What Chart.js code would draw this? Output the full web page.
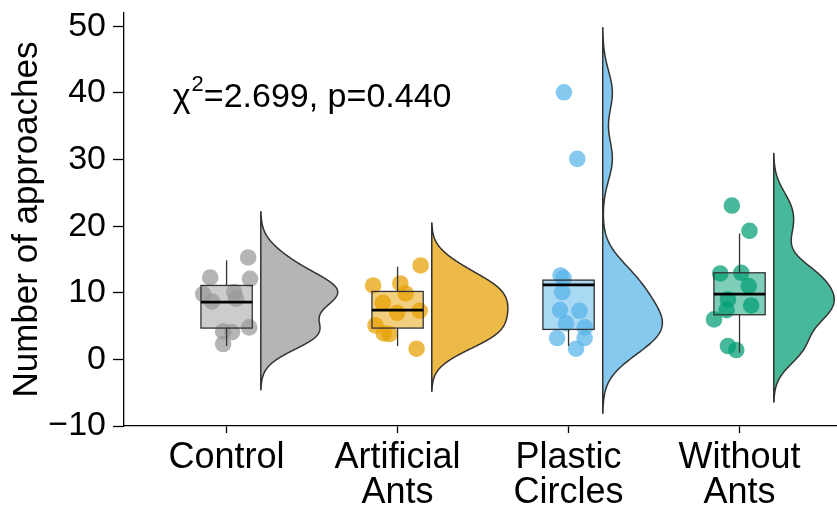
<!DOCTYPE html>
<html>
<head>
<meta charset="utf-8">
<script src="https://cdn.jsdelivr.net/npm/chart.js@4.4.1/dist/chart.umd.min.js"></script>
<style>
html,body{margin:0;padding:0;background:#fff;}
#wrap{width:837px;height:510px;position:relative;}
</style>
</head>
<body>
<div id="wrap"><canvas id="c" width="837" height="510"></canvas></div>
<script>
// ---------------- data ----------------
const categories = [['Control'], ['Artificial', 'Ants'], ['Plastic', 'Circles'], ['Without', 'Ants']];

const controlValues    = [15.3, 12.3, 12.1, 9.8, 8.7, 10.1, 9.1, 4.8, 4.2, 4.1, 2.3];
const artificialValues = [14.1, 11.1, 11.4, 9.9, 8.5, 7.0, 7.3, 5.1, 3.9, 3.8, 1.6];
const plasticValues    = [40.1, 30.1, 12.6, 12.2, 10.1, 7.4, 7.3, 5.4, 4.8, 3.2, 3.2, 1.6];
const withoutValues    = [23.1, 19.3, 12.9, 13.0, 11.0, 9.0, 8.1, 7.4, 6.0, 2.0, 1.4];

// horizontal jitter of each point (category units)
const controlJitter    = [0.126, -0.096, 0.137, -0.137, -0.085, 0.044, 0.056, 0.132, -0.020, 0.032, -0.020];
const artificialJitter = [0.135, -0.143, 0.016, 0.047, -0.086, -0.002, 0.129, -0.129, -0.080, -0.047, 0.111];
const plasticJitter    = [-0.027, 0.051, -0.047, -0.029, -0.037, -0.050, 0.064, -0.015, 0.095, -0.067, 0.094, 0.044];
const withoutJitter    = [-0.045, 0.058, -0.113, 0.010, 0.054, -0.068, 0.068, -0.076, -0.149, -0.068, -0.019];

// box-plot statistics per category
const boxLower  = [2.0, 2.0, 2.0, 1.0];
const boxQ1     = [4.7, 4.7, 4.5, 6.7];
const boxMedian = [8.6, 7.4, 11.2, 9.8];
const boxQ3     = [11.1, 10.2, 11.9, 13.0];
const boxUpper  = [14.9, 13.9, 12.0, 18.9];

const yTicks = [-10, 0, 10, 20, 30, 40, 50];

const statSymbol = 'χ';
const statSup = '2';
const statRest = '=2.699, p=0.440';

// ---------------- styling / layout ----------------
const groupValues = [controlValues, artificialValues, plasticValues, withoutValues];
const groupJitter = [controlJitter, artificialJitter, plasticJitter, withoutJitter];
const groupRGB = ['153,153,153', '230,159,0', '86,180,233', '0,158,115'];
const FONT = '"Liberation Sans", Arial, Helvetica, sans-serif';
const VIOLIN_OFFSET = 0.2, VIOLIN_HALF = 0.45, BOX_HALF = 0.15;
const ANN_X = 1.5, ANN_Y = 39.3;

Chart.defaults.font.family = FONT;
Chart.defaults.color = '#000';

// ---------------- KDE (same as R density / bw.nrd0) ----------------
function quantile(s, p) {
  const h = (s.length - 1) * p, lo = Math.floor(h);
  const hi = Math.min(lo + 1, s.length - 1);
  return s[lo] + (h - lo) * (s[hi] - s[lo]);
}
function bwNrd0(v) {
  const n = v.length;
  const m = v.reduce((a, b) => a + b, 0) / n;
  const sd = Math.sqrt(v.reduce((a, b) => a + (b - m) * (b - m), 0) / (n - 1));
  const s = [...v].sort((a, b) => a - b);
  const iqr = quantile(s, 0.75) - quantile(s, 0.25);
  const lo = Math.min(sd, iqr / 1.34);
  return 0.9 * lo * Math.pow(n, -0.2);
}
function kde(v) {
  const bw = bwNrd0(v);
  const lo = Math.min(...v) - 3 * bw, hi = Math.max(...v) + 3 * bw;
  const N = 300, pts = [];
  for (let k = 0; k <= N; k++) {
    const t = hi - (hi - lo) * k / N;
    let d = 0;
    for (const xi of v) { const z = (t - xi) / bw; d += Math.exp(-0.5 * z * z); }
    d /= (v.length * bw * Math.sqrt(2 * Math.PI));
    pts.push([t, d]);
  }
  return {lo, hi, pts};
}
const densities = groupValues.map(kde);
const maxDensity = Math.max(...densities.map(k => Math.max(...k.pts.map(p => p[1]))));

// ---------------- plugin: violins, boxes, annotation ----------------
const raincloud = {
  id: 'raincloud',
  beforeDatasetsDraw(chart) {
    const {ctx, scales: {x, y}} = chart;
    densities.forEach((k, i) => {
      const base = i + 1 + VIOLIN_OFFSET;
      ctx.save();
      ctx.beginPath();
      ctx.moveTo(x.getPixelForValue(base), y.getPixelForValue(k.hi));
      k.pts.forEach(([t, d]) => {
        ctx.lineTo(x.getPixelForValue(base + d / maxDensity * VIOLIN_HALF), y.getPixelForValue(t));
      });
      ctx.lineTo(x.getPixelForValue(base), y.getPixelForValue(k.lo));
      ctx.closePath();
      ctx.fillStyle = `rgba(${groupRGB[i]},0.72)`;
      ctx.fill();
      ctx.lineWidth = 1.5;
      ctx.strokeStyle = '#333';
      ctx.lineJoin = 'round';
      ctx.stroke();
      ctx.restore();
    });
  },
  afterDatasetsDraw(chart) {
    const {ctx, scales: {x, y}} = chart;
    categories.forEach((c, i) => {
      const cx = i + 1;
      const xl = x.getPixelForValue(cx - BOX_HALF), xr = x.getPixelForValue(cx + BOX_HALF);
      const xc = x.getPixelForValue(cx);
      const yq1 = y.getPixelForValue(boxQ1[i]), yq3 = y.getPixelForValue(boxQ3[i]);
      ctx.save();
      // whiskers
      ctx.strokeStyle = '#333';
      ctx.lineWidth = 1.3;
      ctx.beginPath();
      ctx.moveTo(xc, y.getPixelForValue(boxUpper[i])); ctx.lineTo(xc, yq3);
      ctx.moveTo(xc, yq1); ctx.lineTo(xc, y.getPixelForValue(boxLower[i]));
      ctx.stroke();
      // box
      ctx.fillStyle = `rgba(${groupRGB[i]},0.5)`;
      ctx.fillRect(xl, yq3, xr - xl, yq1 - yq3);
      ctx.strokeRect(xl, yq3, xr - xl, yq1 - yq3);
      // median
      ctx.strokeStyle = '#000';
      ctx.lineWidth = 2.8;
      ctx.beginPath();
      const ym = y.getPixelForValue(boxMedian[i]);
      ctx.moveTo(xl, ym); ctx.lineTo(xr, ym);
      ctx.stroke();
      ctx.restore();
    });
  },
  afterDraw(chart) {
    const {ctx, scales: {x, y}} = chart;
    ctx.save();
    const big = `34px ${FONT}`, small = `22px ${FONT}`;
    ctx.font = big;
    const w1 = ctx.measureText(statSymbol).width;
    const w3 = ctx.measureText(statRest).width;
    ctx.font = small;
    const w2 = ctx.measureText(statSup).width + 1;
    const total = w1 + w2 + w3;
    let px = x.getPixelForValue(ANN_X) - total / 2;
    const py = y.getPixelForValue(ANN_Y);
    ctx.fillStyle = '#000';
    ctx.textBaseline = 'middle';
    ctx.textAlign = 'left';
    ctx.font = big;
    ctx.fillText(statSymbol, px, py);
    px += w1;
    ctx.font = small;
    ctx.fillText(statSup, px + 1, py - 13);
    px += w2;
    ctx.font = big;
    ctx.fillText(statRest, px, py);
    ctx.restore();
  }
};

// ---------------- chart ----------------
const pointDatasets = groupValues.map((vals, i) => ({
  label: categories[i].join(' '),
  data: vals.map((v, j) => ({x: i + 1 + groupJitter[i][j], y: v})),
  pointRadius: 8.3,
  pointHoverRadius: 8.3,
  pointBackgroundColor: `rgba(${groupRGB[i]},0.72)`,
  backgroundColor: `rgba(${groupRGB[i]},0.72)`,
  pointBorderWidth: 0,
  borderWidth: 0
}));

new Chart(document.getElementById('c'), {
  type: 'scatter',
  data: {datasets: pointDatasets},
  plugins: [raincloud],
  options: {
    responsive: false,
    animation: false,
    layout: {autoPadding: false, padding: {top: 13, left: 0, right: 0, bottom: 0}},
    plugins: {legend: {display: false}, tooltip: {enabled: false}},
    scales: {
      x: {
        type: 'linear',
        min: 0.4,
        max: 4.57,
        bounds: 'data',
        afterBuildTicks: s => { s.ticks = categories.map((_, i) => ({value: i + 1})); },
        afterFit: s => { s.height = 84; s.paddingLeft = 0; s.paddingRight = 0; },
        ticks: {
          callback: v => categories[Math.round(v) - 1] || '',
          autoSkip: false, maxRotation: 0, minRotation: 0,
          padding: 7.5, color: '#000',
          font: {size: 36, lineHeight: '35px'}
        },
        grid: {display: true, drawOnChartArea: false, drawTicks: true, tickLength: 7, tickColor: '#000', tickWidth: 1.3},
        border: {display: true, color: '#000', width: 1.3}
      },
      y: {
        type: 'linear',
        min: -10,
        max: 52,
        bounds: 'data',
        afterBuildTicks: s => { s.ticks = yTicks.map(v => ({value: v})); },
        afterFit: s => { s.width = 124; s.paddingTop = 0; s.paddingBottom = 0; },
        ticks: {
          callback: v => (v < 0 ? '\u2212' + Math.abs(v) : String(v)),
          padding: 7, color: '#000',
          font: {size: 34}
        },
        grid: {display: true, drawOnChartArea: false, drawTicks: true, tickLength: 11, tickColor: '#000', tickWidth: 1.3},
        border: {display: true, color: '#000', width: 1.3},
        title: {display: true, text: 'Number of approaches', color: '#000', font: {size: 35}, padding: {top: 6, bottom: 0}}
      }
    }
  }
});
</script>
</body>
</html>
